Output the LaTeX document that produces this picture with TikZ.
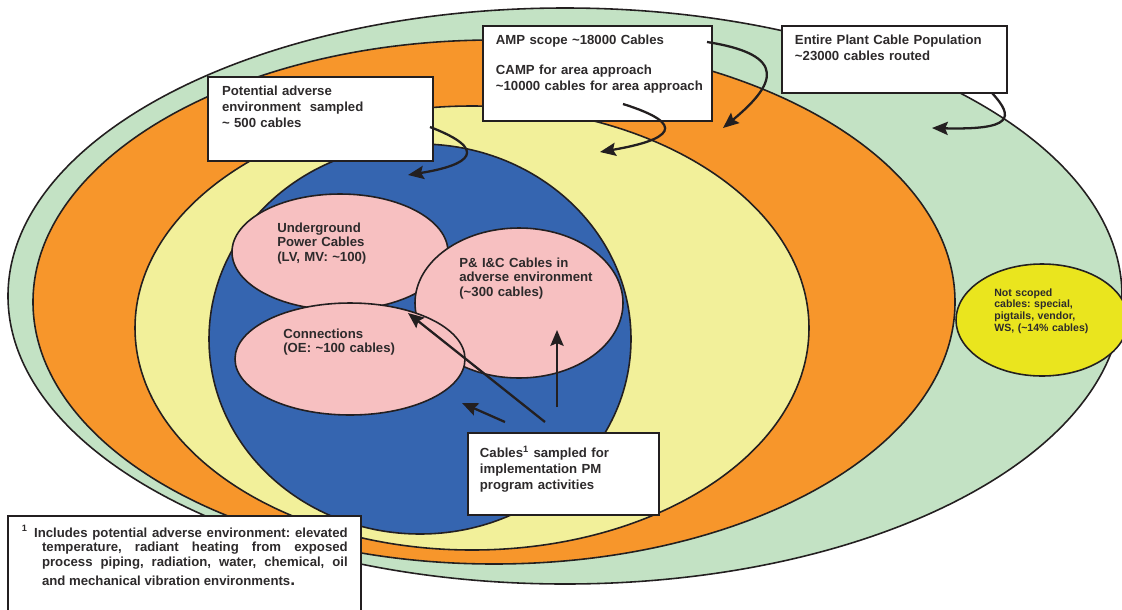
\documentclass[tikz,border=0pt]{standalone}
\usepackage{fontspec}
\setmainfont{Liberation Sans}
\usetikzlibrary{shapes.geometric,arrows.meta}

\definecolor{plantgreen}{RGB}{195,226,196}
\definecolor{amporange}{RGB}{247,150,43}
\definecolor{campyellow}{RGB}{242,240,154}
\definecolor{adverseblue}{RGB}{53,101,176}
\definecolor{cablepink}{RGB}{247,192,193}
\definecolor{unscopedyellow}{RGB}{234,229,30}
\definecolor{outline}{RGB}{35,31,32}
\definecolor{inkgray}{RGB}{45,42,43}

\newlength\pxlen
\setlength\pxlen{0.02cm}
\newcommand{\tld}{\textasciitilde}
\frenchspacing

\begin{document}
\begin{tikzpicture}[x=0.02cm, y=-0.02cm, >={Stealth[length=9pt,width=7.5pt,inset=1.5pt]},
  region/.style={ellipse, draw=outline, line width=0.9pt, inner sep=0pt},
  lbl/.style={anchor=base west, align=left, text width=4cm, inner sep=0pt, text=inkgray,
    font=\fontsize{7.5}{8.5}\selectfont\bfseries},
  callout/.style={draw=outline, line width=1.1pt, fill=white, anchor=north west,
    inner xsep=7.4pt, inner ysep=3pt, text=inkgray,
    font=\fontsize{7.5}{9}\selectfont\bfseries},
  pointer/.style={->, draw=outline, line width=1.3pt}]

\useasboundingbox (0,0) rectangle (1122,609);
\clip (0,0) rectangle (1122,609);

\foreach \n/\col/\cx/\cy/\rx/\ry in {
    plant/plantgreen/565/296/557/288,
    amp/amporange/494/302/461/262,
    camp/campyellow/472/328/337/222,
    adverse/adverseblue/420/339/211/195,
    ugpower/cablepink/340/252/108/58,
    pic/cablepink/519/303/104/75,
    conn/cablepink/350/359/115/56,
    unscoped/unscopedyellow/1042/320/86/56}
  \node [region, fill=\col, minimum width=2*\rx\pxlen, minimum height=2*\ry\pxlen]
    (\n) at (\cx,\cy) {};

\node [lbl] (ugpowerTxt) at (277,232) {Underground\\Power Cables\\(LV, MV: \tld100)};
\node [lbl] (picTxt) at (459,267) {P\& I\&C Cables in\\adverse environment\\(\tld300 cables)};
\node [lbl] (connTxt) at (283,338) {Connections\\(OE: \tld100 cables)};
\node [lbl, font=\fontsize{6}{6.8}\selectfont\bfseries] (unscopedTxt) at (994,296)
  {Not scoped\\cables: special,\\pigtails, vendor,\\WS, (\tld14\% cables)};

\node [callout, align=left, text width=115.5pt, text height=7.8pt, text depth=40.2pt]
  (ampBox) at (482,25)
  {AMP scope \tld18000 Cables\\[8pt]CAMP for area approach\\\mbox{\tld10000 cables for area approach}};

\node [callout, align=left, text width=113.2pt, text height=7.8pt, text depth=24.3pt]
  (plantBox) at (781,25) {Entire Plant Cable Population\\\tld23000 cables routed};

\node [callout, align=left, inner xsep=8pt, text width=112pt, text height=7.8pt, text depth=34pt]
  (adverseBox) at (207,76) {Potential adverse\\environment\ \ sampled\\\tld{} 500 cables};

\node [callout, align=left, inner xsep=6.8pt, text width=95pt, text height=11.2pt, text depth=29.4pt]
  (sampleBox) at (467,432) {Cables\textsuperscript{1} sampled for\\implementation PM\\program activities};

\node [callout, align=justify, font=\fontsize{7.5}{8.5}\selectfont\bfseries,
  text width=186pt, text height=9pt, text depth=45pt] (noteBox) at (7,515)
  {\leftskip=12pt\parfillskip=0pt
   \hspace*{-4.5pt}\llap{\textsuperscript{1}\hspace{3.5pt}}Includes potential adverse environment: elevated\linebreak
   temperature, radiant heating from exposed\linebreak
   process piping, radiation, water, chemical, oil\par
   \vspace{2pt}\parfillskip=0pt plus 1fil
   and mechanical vibration environments{\fontsize{10}{8.5}\selectfont.}\par};

\coordinate (ampTail) at (707,42);
\coordinate (ampTip) at (723,128);
\coordinate (campTail) at (623,104);
\coordinate (campTip) at (600,152);
\coordinate (plantTail) at (992,93);
\coordinate (plantTip) at (932,128);
\coordinate (adverseTail) at (430,127);
\coordinate (adverseTip) at (408,175);

\draw [pointer] (ampTail) .. controls (790,55) and (775,85) .. (ampTip);
\draw [pointer] (campTail) .. controls (690,125) and (670,140) .. (campTip);
\draw [pointer] (plantTail) .. controls (1015,118) and (1012,130) .. (plantTip);
\draw [pointer] (adverseTail) .. controls (490,150) and (470,165) .. (adverseTip);

\foreach \t/\h in {{545,422}/{408,313}, {557,407}/{557,330}, {505,422}/{462,403}}
  \draw [pointer] (\t) -- (\h);

\end{tikzpicture}
\end{document}
